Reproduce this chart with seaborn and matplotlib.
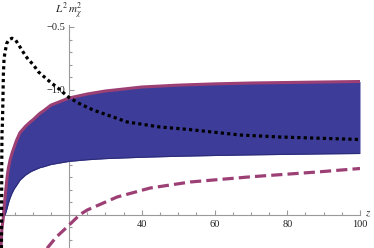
import numpy as np
import pandas as pd
import matplotlib
matplotlib.use("Agg")
import matplotlib.pyplot as plt
import matplotlib.transforms as mtransforms
import seaborn as sns

# ---- data ----
band_x = [1.3, 1.5, 1.85, 1.93, 2.12, 2.4, 2.6, 3.0, 3.3, 3.8, 4.3, 4.9, 5.5, 6.5,
          8, 9.3, 10, 12, 13, 15, 20, 25, 30, 40, 50, 60, 70, 80, 90, 100]
band_upper = [-2.27, -2.12, -2.04, -2.02, -1.94, -1.86, -1.80, -1.69, -1.63, -1.56,
              -1.51, -1.46, -1.41, -1.345, -1.295, -1.26, -1.244, -1.19, -1.17, -1.125,
              -1.068, -1.036, -1.012, -0.98, -0.965, -0.955, -0.948, -0.944, -0.94, -0.936]
band_lower = [-2.27, -2.12, -2.04, -2.02, -2.015, -2.0, -1.985, -1.945, -1.91, -1.865,
              -1.83, -1.795, -1.77, -1.725, -1.685, -1.66, -1.65, -1.625, -1.618, -1.60,
              -1.575, -1.562, -1.553, -1.542, -1.534, -1.528, -1.523, -1.519, -1.515, -1.512]

dotted_x = [1.40, 1.45, 1.49, 1.55, 1.65, 1.76, 1.93, 2.12, 2.4, 2.86, 3.5, 4.3, 5.3,
            6.5, 8, 8.8, 10.1, 11.6, 14.8, 17, 20, 23, 26.6, 36, 45, 53, 67, 78, 100]
dotted_y = [-2.27, -1.90, -1.55, -1.35, -1.28, -1.15, -0.88, -0.75, -0.70, -0.63, -0.60,
            -0.59, -0.605, -0.66, -0.73, -0.76, -0.80, -0.86, -0.94, -0.99, -1.065,
            -1.115, -1.164, -1.26, -1.30, -1.32, -1.364, -1.38, -1.40]

dashed_x = [13.95, 16.5, 19.45, 23, 25, 33.2, 42.3, 53.3, 70.1, 88.2, 100]
dashed_y = [-2.27, -2.18, -2.10, -2.0, -1.964, -1.86, -1.788, -1.74, -1.698, -1.66, -1.632]

x_major = [20, 40, 60, 80, 100]
x_major_labels = ["", "40", "60", "80", "100"]
y_major = [-2.0, -1.5, -1.0, -0.5]
y_major_labels = ["", "\u22121.5", "\u22121.0", "\u22120.5"]

BLUE = "#3d3d99"
PURPLE = "#9c3f74"
AXIS_GRAY = "#9a9a9a"
TEXT = "#222222"

sns.set_style("white")
plt.rcParams["font.family"] = ["Liberation Serif", "DejaVu Serif"]
plt.rcParams["mathtext.fontset"] = "stix"

fig = plt.figure(figsize=(3.74, 2.48), dpi=100)
ax = fig.add_axes([0.0, 0.0, 360 / 374, 223 / 248])

band = pd.DataFrame({"x": band_x, "upper": band_upper, "lower": band_lower})
ax.fill_between(band["x"], band["lower"], band["upper"], color=BLUE, lw=0, zorder=1)
sns.lineplot(data=band, x="x", y="lower", ax=ax, color="#2b2b78", lw=0.8,
             estimator=None, sort=False, zorder=2)
sns.lineplot(data=band, x="x", y="upper", ax=ax, color=PURPLE, lw=2.2,
             estimator=None, sort=False, zorder=3)

dot = pd.DataFrame({"x": dotted_x, "y": dotted_y})
sns.lineplot(data=dot, x="x", y="y", ax=ax, color="black", lw=2.3,
             estimator=None, sort=False, zorder=4)
ax.lines[-1].set_linestyle((0, (1.0, 1.0)))
ax.lines[-1].set_dash_capstyle("butt")

dsh = pd.DataFrame({"x": dashed_x, "y": dashed_y})
sns.lineplot(data=dsh, x="x", y="y", ax=ax, color=PURPLE, lw=2.3,
             estimator=None, sort=False, zorder=4)
ax.lines[-1].set_linestyle((0, (3.5, 1.6)))
ax.lines[-1].set_dash_capstyle("butt")

ax.set_xlim(1.0, 100)
ax.set_ylim(-2.268, -0.484)

# axes crossing at (20, -2)
for s in ["top", "right"]:
    ax.spines[s].set_visible(False)
ax.spines["left"].set_position(("data", 20))
ax.spines["bottom"].set_position(("data", -2.0))
for s in ["left", "bottom"]:
    ax.spines[s].set_color(AXIS_GRAY)
    ax.spines[s].set_linewidth(0.8)
    ax.spines[s].set_zorder(0.5)

ax.set_xticks(x_major)
ax.set_xticklabels(x_major_labels)
ax.set_xticks([v for v in range(5, 100, 5) if v % 20 != 0], minor=True)
ax.set_yticks(y_major)
ax.set_yticklabels(y_major_labels)
ax.set_yticks([round(-2.2 + 0.1 * i, 2) for i in range(17)
               if round((-2.2 + 0.1 * i) * 10) % 5 != 0], minor=True)

ax.tick_params(which="both", direction="in", color=AXIS_GRAY, width=0.8,
               labelsize=7.5, labelcolor=TEXT, bottom=True, left=True,
               top=False, right=False)
ax.tick_params(which="major", length=3.4)
ax.tick_params(which="minor", length=2.0)
ax.tick_params(axis="x", pad=4)
ax.tick_params(axis="y", pad=3)
ax.set_xlabel("")
ax.set_ylabel("")
ax.set_axisbelow(True)

trans = mtransforms.blended_transform_factory(ax.transData, ax.transAxes)
ax.annotate(r"$L^2\,m_\chi^2$", xy=(20, 1.0), xycoords=trans, xytext=(0, 3),
            textcoords="offset points", ha="center", va="bottom",
            fontsize=8, color=TEXT, annotation_clip=False)
ax.annotate(r"$z$", xy=(100, -2.0), xycoords="data", xytext=(3.5, 0),
            textcoords="offset points", ha="left", va="center",
            fontsize=8, color=TEXT, annotation_clip=False)

fig.savefig("out.png", dpi=100)
